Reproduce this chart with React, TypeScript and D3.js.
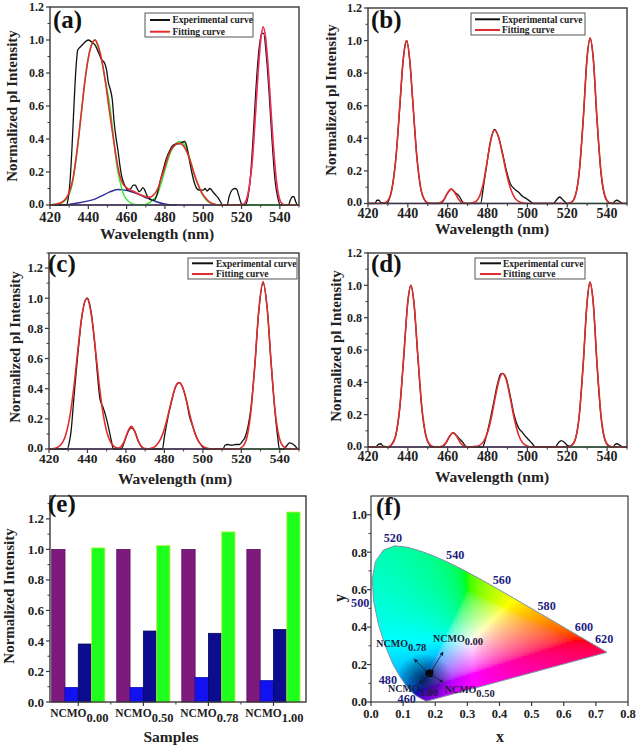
import React, { useMemo } from "react";
import * as d3 from "d3";

type P = [number, number];

// ---------- axis ticks / labels ----------
const wavelengthTicks = [420, 440, 460, 480, 500, 520, 540];
const wavelengthMinor = [430, 450, 470, 490, 510, 530, 550];
const legendLabels = ["Experimental curve", "Fitting curve"];

// ---------- panel (a) ----------
const expA: P[] = [[420,0],[428.5,0],[429.5,0.04],[430.5,0.15],[431.5,0.35],[432.5,0.6],[433.5,0.82],[434.5,0.94],[436,0.96],[438,0.985],[440,1.0],[441.5,0.99],[443.5,0.97],[445.5,0.92],[447,0.88],[448.5,0.86],[449.5,0.82],[450.5,0.74],[451.5,0.7],[452.5,0.64],[453.5,0.5],[454.7,0.39],[455.5,0.33],[456.5,0.24],[457.5,0.17],[459,0.12],[460.7,0.09],[462.2,0.1],[463.5,0.12],[464.5,0.12],[465.5,0.1],[466.5,0.08],[467.5,0.09],[468.5,0.105],[469.5,0.09],[470.5,0.06],[471.5,0.045],[473,0.03],[474.6,0.03],[476,0.07],[477.2,0.13],[479,0.21],[480.7,0.28],[482.5,0.33],[484.1,0.36],[486,0.37],[487.6,0.37],[489,0.38],[490.2,0.385],[491.3,0.36],[492.5,0.29],[494,0.2],[495.5,0.13],[497,0.095],[498.5,0.09],[500,0.09],[501,0.1],[502,0.085],[503.5,0.1],[505,0.08],[506.5,0.06],[508,0.04],[509.2,0.015],[510,0],[512.5,0],[513.5,0.05],[515,0.09],[516.5,0.1],[517.5,0.095],[518.5,0.06],[519.5,0.02],[520.5,0],[522,0],[523,0.03],[524.5,0.15],[526,0.4],[527.5,0.7],[529,0.93],[530.5,1.04],[531.5,1.04],[533,0.9],[534.5,0.66],[536,0.38],[537.5,0.15],[539,0.04],[540.3,0],[544.5,0],[545.5,0.03],[546.5,0.05],[547.3,0.05],[548.3,0.02],[549.3,0],[550,0]];
const fitA: P[] = [[420,0],[423,0.004],[426,0.015],[428,0.035],[430,0.075],[432,0.16],[434,0.32],[436,0.52],[438,0.73],[440,0.89],[442,0.98],[443.5,1.0],[445,0.97],[447,0.88],[449,0.74],[451,0.57],[453,0.41],[455,0.26],[456.5,0.175],[458,0.13],[460.5,0.1],[464,0.08],[467.5,0.06],[470,0.05],[472,0.047],[474,0.06],[476.3,0.1],[478,0.16],[480,0.23],[481.5,0.29],[483.5,0.34],[485.5,0.365],[487.6,0.375],[489.5,0.36],[491.5,0.32],[493.7,0.25],[495.5,0.18],[497.1,0.13],[499,0.08],[501,0.045],[503,0.02],[505,0.008],[507,0.002],[509,0],[519,0],[521,0.005],[522.5,0.03],[524,0.11],[525.5,0.25],[527,0.5],[528.5,0.78],[530,1.0],[531.3,1.08],[532.5,1.02],[534,0.82],[535.5,0.55],[537,0.3],[538.5,0.12],[540,0.03],[541.5,0.005],[543,0],[550,0]];
const greenA: P[] = [[420,0],[426,0.012],[430,0.065],[432,0.15],[434,0.31],[436,0.52],[438,0.73],[440,0.89],[442,0.98],[443.5,1.0],[445,0.96],[447,0.87],[449,0.75],[451,0.62],[452.5,0.48],[453.8,0.34],[455,0.23],[456.4,0.15],[457.7,0.09],[459,0.05],[460.7,0.025],[462.5,0.01],[465,0.002],[468,0],[470,0.004],[472,0.014],[474,0.035],[476.3,0.07],[478,0.13],[480,0.21],[482,0.29],[484,0.345],[486,0.375],[488,0.385],[490,0.37],[492,0.32],[494,0.24],[496,0.16],[498,0.1],[500,0.055],[502,0.025],[504,0.01],[506,0.003],[508,0],[550,0]];
const blueA: P[] = [[420,0],[430,0.004],[436,0.015],[440,0.025],[443.4,0.036],[447,0.055],[451,0.078],[455.5,0.094],[459,0.09],[462,0.082],[465.9,0.066],[469,0.05],[472.9,0.033],[476,0.018],[479.8,0.006],[483,0.001],[486,0]];
const magentaA: P[] = [[519,0],[521,0.005],[522.5,0.03],[524,0.11],[525.5,0.25],[527,0.5],[528.5,0.77],[530,0.99],[531.3,1.07],[532.5,1.01],[534,0.81],[535.5,0.54],[537,0.29],[538.5,0.11],[540,0.03],[541.5,0.005],[543,0]];

// ---------- panel (b) ----------
const expB: P[] = [[420,0],[423.5,0],[424.5,0.02],[425.5,0.02],[426.5,0.005],[429.5,0],[430.5,0.02],[432,0.09],[434,0.28],[436,0.6],[437.5,0.86],[439,0.99],[439.5,1.0],[441,0.87],[442.5,0.62],[444.5,0.29],[446.5,0.09],[448.5,0.02],[450,0],[456,0],[458,0.02],[460,0.065],[461.8,0.088],[463.5,0.07],[465,0.055],[466,0.04],[467.5,0.01],[469,0],[476.5,0],[478,0.11],[479.5,0.23],[481,0.35],[482.5,0.43],[483.5,0.455],[485.5,0.41],[487.5,0.31],[489.5,0.2],[491.5,0.12],[493.5,0.09],[495.5,0.07],[497.5,0.045],[499.5,0.03],[501.5,0.012],[503,0],[513,0],[514.5,0.02],[516.2,0.04],[518,0.02],[520,0],[522,0.007],[524,0.045],[526,0.19],[528,0.51],[530,0.9],[531.5,1.015],[533,0.9],[535,0.5],[537,0.18],[539,0.04],[541,0.005],[543,0],[544,0.015],[545,0.02],[546.5,0.01],[548,0],[550,0]];
const fitB: P[] = [[420,0],[426,0],[428,0.003],[430,0.019],[432,0.087],[434,0.276],[436,0.607],[437.5,0.862],[439.3,1.0],[441,0.876],[442.5,0.625],[444.5,0.289],[446.5,0.093],[448.5,0.021],[450.5,0.003],[453,0],[456,0.004],[458,0.023],[460,0.066],[461.8,0.09],[463.5,0.068],[465.5,0.025],[467.5,0.004],[470,0],[472,0.003],[474,0.011],[476,0.045],[478,0.131],[480,0.273],[482,0.41],[483.5,0.45],[485.5,0.408],[487.5,0.303],[489.5,0.185],[491.5,0.093],[493.5,0.038],[495.5,0.013],[498,0.0025],[500,0],[520,0],[522,0.007],[524,0.045],[526,0.19],[528,0.51],[530,0.9],[531.5,1.015],[533,0.9],[535,0.51],[537,0.19],[539,0.045],[541,0.007],[543,0],[550,0]];

// ---------- panel (c) ----------
const expC: P[] = [[420,0],[429.5,0],[430.5,0.04],[431.5,0.12],[433,0.35],[435,0.63],[437,0.87],[439,0.99],[440,1.0],[442,0.9],[444,0.67],[445.5,0.45],[446.5,0.33],[448,0.28],[449.5,0.22],[451,0.14],[452.5,0.05],[453.5,0],[457.5,0],[459,0.04],[461,0.11],[462.8,0.14],[464.5,0.12],[466.5,0.05],[468.5,0.01],[470,0],[479,0],[480,0.08],[482,0.22],[484,0.33],[486,0.42],[487.6,0.44],[489.5,0.41],[491.5,0.32],[493,0.22],[494.2,0.17],[495,0.14],[497,0.07],[499.5,0.02],[501,0],[510.5,0],[511.5,0.025],[513,0.03],[515,0.025],[517,0.03],[519,0.03],[520.5,0.05],[522,0.08],[523.5,0.15],[525,0.27],[527,0.55],[529,0.9],[531.3,1.1],[533.5,0.93],[535.5,0.57],[537.5,0.25],[539,0.07],[539.8,0],[542,0],[543.5,0.02],[545,0.04],[546.5,0.035],[548,0.02],[549.5,0],[550,0]];
const fitC: P[] = [[420,0],[422,0.002],[424,0.008],[427,0.042],[429,0.106],[431,0.228],[433,0.418],[435,0.655],[437,0.873],[439.6,1.0],[442,0.891],[444,0.679],[446,0.441],[448,0.244],[450,0.115],[452,0.046],[454,0.016],[456,0.006],[457,0.011],[459,0.047],[461,0.116],[462.8,0.15],[464.5,0.119],[466.5,0.05],[468.5,0.011],[470,0.003],[472,0.002],[474,0.008],[476,0.027],[478,0.065],[480,0.132],[482,0.229],[484,0.336],[486,0.417],[487.6,0.44],[489.5,0.408],[491.5,0.32],[493.5,0.213],[495.5,0.12],[497.5,0.057],[499.5,0.023],[502,0.006],[505,0],[518,0],[521,0.02],[523,0.083],[525,0.25],[527,0.55],[529,0.91],[531.3,1.11],[533.5,0.925],[535.5,0.572],[537.5,0.26],[539.5,0.088],[541.5,0.022],[544,0.002],[546,0],[550,0]];

// ---------- panel (d) ----------
const expD: P[] = [[420,0],[424,0],[425,0.015],[426.5,0.02],[427.5,0.005],[431,0],[432,0.02],[434,0.075],[436,0.25],[438,0.57],[440,0.9],[441.5,1.0],[443,0.9],[445,0.56],[447,0.24],[449,0.07],[451,0.01],[452,0],[457,0],[459,0.022],[461,0.066],[462.7,0.088],[464.5,0.07],[466,0.05],[467.5,0.03],[469,0.005],[470,0],[477.5,0],[479,0.05],[481,0.15],[483,0.27],[485,0.39],[486.5,0.45],[487.6,0.455],[489.5,0.42],[491.5,0.31],[493.5,0.19],[495.5,0.12],[497.5,0.09],[499.5,0.06],[501,0.04],[502.5,0.02],[504,0],[514,0],[515.5,0.025],[517,0.04],[518.5,0.03],[520,0.01],[521,0.005],[522.5,0.015],[524,0.045],[526,0.19],[528,0.51],[530,0.9],[531.4,1.02],[533,0.9],[535,0.5],[537,0.18],[539,0.04],[541,0.005],[543,0],[544,0.015],[545,0.02],[546.5,0.01],[548,0],[550,0]];
const fitD: P[] = [[420,0],[428,0],[430,0.002],[432,0.016],[434,0.076],[436,0.25],[438,0.57],[440,0.9],[441.5,1.0],[443,0.9],[445,0.57],[447,0.25],[449,0.076],[451,0.016],[453,0.002],[455,0],[457,0.004],[459,0.025],[461,0.068],[462.7,0.09],[464.5,0.066],[466.5,0.023],[468.5,0.004],[471,0],[474,0.004],[476,0.01],[478,0.033],[480,0.089],[482,0.187],[484,0.315],[486,0.423],[487.6,0.455],[489.5,0.411],[491.5,0.296],[493.5,0.17],[495.5,0.078],[497.5,0.028],[500,0.006],[502,0],[520,0],[522,0.007],[524,0.045],[526,0.19],[528,0.51],[530,0.9],[531.4,1.02],[533,0.9],[535,0.51],[537,0.19],[539,0.045],[541,0.007],[543,0],[550,0]];

// baseline component traces (zero level)
const violetBase: P[] = [[420,0],[520,0]];
const greenBase: P[] = [[520,0],[546,0]];

// ---------- panel (e) ----------
const sampleNames = ["0.00", "0.50", "0.78", "1.00"];
const violetBars = [1.0, 1.0, 1.0, 1.0];
const blueBars = [0.095, 0.095, 0.16, 0.14];
const navyBars = [0.38, 0.465, 0.45, 0.475];
const greenBars = [1.01, 1.025, 1.115, 1.245];
const barTicks = [0, 0.2, 0.4, 0.6, 0.8, 1.0, 1.2];

// ---------- panel (f) : CIE 1931 spectral locus [nm, x, y] ----------
const locus: [number, number, number][] = [
  [380,0.1741,0.0050],[400,0.1733,0.0048],[420,0.1714,0.0051],[430,0.1689,0.0069],[440,0.1644,0.0109],
  [450,0.1566,0.0177],[460,0.1440,0.0297],[465,0.1355,0.0399],[470,0.1241,0.0578],[475,0.1096,0.0868],
  [480,0.0913,0.1327],[485,0.0687,0.2007],[490,0.0454,0.2950],[495,0.0235,0.4127],[500,0.0082,0.5384],
  [505,0.0039,0.6548],[510,0.0139,0.7502],[515,0.0389,0.8120],[520,0.0743,0.8338],[525,0.1142,0.8262],
  [530,0.1547,0.8059],[535,0.1929,0.7816],[540,0.2296,0.7543],[545,0.2658,0.7243],[550,0.3016,0.6923],
  [555,0.3373,0.6589],[560,0.3731,0.6245],[565,0.4087,0.5896],[570,0.4441,0.5547],[575,0.4788,0.5202],
  [580,0.5125,0.4866],[585,0.5448,0.4544],[590,0.5752,0.4242],[595,0.6029,0.3965],[600,0.6270,0.3725],
  [605,0.6482,0.3514],[610,0.6658,0.3340],[620,0.6915,0.3083],[630,0.7079,0.2920],[640,0.7190,0.2809],
  [650,0.7260,0.2740],[700,0.7347,0.2653]
];
const locusLabelNm = [520, 540, 560, 580, 600, 620, 500, 480, 460];
const cieX = [0.186, 0.181, 0.177, 0.184];
const cieY = [0.160, 0.150, 0.156, 0.147];
const cieXTicks = [0, 0.1, 0.2, 0.3, 0.4, 0.5, 0.6, 0.7, 0.8];
const cieYTicks = [0, 0.2, 0.4, 0.6, 0.8, 1.0];

const FONT = "'Liberation Serif', 'DejaVu Serif', 'Times New Roman', serif";
const FRAME = "#3a3a3a";
const RED = "#e22d2d";
const f1 = d3.format(".1f");

type Series = { data: P[]; color: string; width: number; opacity?: number };
type SpecCfg = {
  id: string; l: number; r: number; t: number; b: number; yMax: number;
  letter: string; letterX: number; letterY: number;
  xTickFont: number; xTickY: number; yTickFont: number;
  xTitleX: number; xTitleY: number; xTitleFont: number;
  yTitleX: number; yTitleY: number;
  legend: { x0: number; y0: number; x1: number; y1: number; lx0: number; lx1: number; r1: number; r2: number; tx: number };
  series: Series[];
};

function SpectrumPanel({ c }: { c: SpecCfg }) {
  const x = d3.scaleLinear().domain([420, 550]).range([c.l, c.r]);
  const y = d3.scaleLinear().domain([0, c.yMax]).range([c.b, c.t]);
  const line = d3.line<P>().x((d) => x(d[0])).y((d) => y(d[1])).curve(d3.curveMonotoneX);
  const yMajor = d3.range(0, c.yMax + 1e-6, 0.2).map((v) => +v.toFixed(2)).filter((v) => v <= 1.2 + 1e-6);
  const yMinor = d3.range(0.1, c.yMax + 1e-6, 0.2).map((v) => +v.toFixed(2));
  const L = c.legend;
  return (
    <g fontFamily={FONT} fontWeight="bold">
      <defs>
        <clipPath id={`clip-${c.id}`}>
          <rect x={c.l} y={c.t} width={c.r - c.l} height={c.b - c.t + 1} />
        </clipPath>
      </defs>
      <g clipPath={`url(#clip-${c.id})`}>
        {c.series.map((s, i) => (
          <path key={i} d={line(s.data) || ""} fill="none" stroke={s.color} strokeWidth={s.width}
            opacity={s.opacity ?? 1} strokeLinejoin="round" />
        ))}
      </g>
      <rect x={c.l} y={c.t} width={c.r - c.l} height={c.b - c.t} fill="none" stroke={FRAME} strokeWidth={1.4} />
      {wavelengthTicks.map((v) => (
        <g key={v}>
          <line x1={x(v)} x2={x(v)} y1={c.b} y2={c.b + 4} stroke={FRAME} strokeWidth={1.2} />
          <text x={x(v)} y={c.xTickY} fontSize={c.xTickFont} textAnchor="middle" fill="#222">{v}</text>
        </g>
      ))}
      {wavelengthMinor.map((v) => (
        <line key={v} x1={x(v)} x2={x(v)} y1={c.b} y2={c.b + 2.5} stroke={FRAME} strokeWidth={1} />
      ))}
      {yMajor.map((v) => (
        <g key={v}>
          <line x1={c.l - 4} x2={c.l} y1={y(v)} y2={y(v)} stroke={FRAME} strokeWidth={1.2} />
          <text x={c.l - 6} y={y(v) - (v === 0 ? 1.5 : 0)} dy="0.35em" fontSize={c.yTickFont} textAnchor="end" fill="#222">{f1(v)}</text>
        </g>
      ))}
      {yMinor.map((v) => (
        <line key={v} x1={c.l - 2.5} x2={c.l} y1={y(v)} y2={y(v)} stroke={FRAME} strokeWidth={1} />
      ))}
      <text x={c.xTitleX} y={c.xTitleY} fontSize={c.xTitleFont} textAnchor="middle" fill="#222">Wavelength (nm)</text>
      <text transform={`translate(${c.yTitleX},${c.yTitleY}) rotate(-90)`} fontSize={15} textAnchor="middle" fill="#222">
        Normalized pl Intensity
      </text>
      <text x={c.letterX} y={c.letterY} fontSize={25} fill="#111">{c.letter}</text>
      <rect x={L.x0} y={L.y0} width={L.x1 - L.x0} height={L.y1 - L.y0} fill="#fff" stroke="#555" strokeWidth={1} />
      {[L.r1, L.r2].map((ry, i) => (
        <g key={i}>
          <line x1={L.lx0} x2={L.lx1} y1={ry} y2={ry} stroke={i === 0 ? "#111" : RED} strokeWidth={2} />
          <text x={L.tx} y={ry + 3.3} fontSize={9.5} fill="#222">{legendLabels[i]}</text>
        </g>
      ))}
    </g>
  );
}

function BarPanel() {
  const l = 50, r = 306, t = 496, b = 702;
  const x = d3.scaleLinear().domain([0.565, 4.5]).range([l, r]);
  const y = d3.scaleLinear().domain([0, 1.35]).range([b, t]);
  const w = 0.2045;
  const groups = [
    { vals: violetBars, fill: "#7e1a7e", stroke: "#5e0f5e" },
    { vals: blueBars, fill: "#1212f0", stroke: "#0a0ab0" },
    { vals: navyBars, fill: "#0c0c8e", stroke: "#06065e" },
    { vals: greenBars, fill: "#1eff1e", stroke: "#c4f04a" },
  ];
  const minorY = d3.range(0.1, 1.35, 0.2);
  return (
    <g fontFamily={FONT} fontWeight="bold">
      {groups.map((g, gi) =>
        g.vals.map((v, i) => {
          const cx = i + 1;
          const x0 = x(cx + (gi - 2) * w);
          const x1 = x(cx + (gi - 1) * w);
          return (
            <rect key={`${gi}-${i}`} x={x0} y={y(v)} width={x1 - x0} height={y(0) - y(v)}
              fill={g.fill} stroke={g.stroke} strokeWidth={0.8} />
          );
        })
      )}
      <rect x={l} y={t} width={r - l} height={b - t} fill="none" stroke={FRAME} strokeWidth={1.4} />
      {barTicks.map((v) => (
        <g key={v}>
          <line x1={l - 4} x2={l} y1={y(v)} y2={y(v)} stroke={FRAME} strokeWidth={1.2} />
          <text x={l - 6} y={y(v)} dy="0.35em" fontSize={13} textAnchor="end" fill="#222">{f1(v)}</text>
        </g>
      ))}
      {minorY.map((v) => (
        <line key={v} x1={l - 2.5} x2={l} y1={y(v)} y2={y(v)} stroke={FRAME} strokeWidth={1} />
      ))}
      {sampleNames.map((s, i) => (
        <g key={s}>
          <line x1={x(i + 1)} x2={x(i + 1)} y1={b} y2={b + 4} stroke={FRAME} strokeWidth={1.2} />
          {i < 3 && <line x1={x(i + 1.5)} x2={x(i + 1.5)} y1={b} y2={b + 2.5} stroke={FRAME} strokeWidth={1} />}
          <text x={x(i + 1) + 1} y={717} textAnchor="middle" fill="#222">
            <tspan fontSize={11.5}>NCMO</tspan>
            <tspan fontSize={12.5} dy={5}>{s}</tspan>
          </text>
        </g>
      ))}
      <text x={171} y={742} fontSize={15.5} textAnchor="middle" fill="#222">Samples</text>
      <text transform="translate(14,596) rotate(-90)" fontSize={15} textAnchor="middle" fill="#222">Normalized Intensity</text>
      <text x={48} y={512} fontSize={25} fill="#111">(e)</text>
    </g>
  );
}

function srgbGamma(v: number) {
  return v <= 0.0031308 ? 12.92 * v : 1.055 * Math.pow(v, 1 / 2.4) - 0.055;
}
function xyColor(x: number, y: number) {
  const Y = 1, X = x / y, Z = (1 - x - y) / y;
  let r = 3.2406 * X - 1.5372 * Y - 0.4986 * Z;
  let g = -0.9689 * X + 1.8758 * Y + 0.0415 * Z;
  let b = 0.0557 * X - 0.204 * Y + 1.057 * Z;
  const mn = Math.min(r, g, b);
  if (mn < 0) { r -= mn; g -= mn; b -= mn; }
  const mx = Math.max(r, g, b) || 1;
  const c = [r / mx, g / mx, b / mx].map((v) => Math.round(255 * Math.min(1, Math.max(0, srgbGamma(v)))));
  return `rgb(${c[0]},${c[1]},${c[2]})`;
}

function CiePanel() {
  const l = 371, r = 628, t = 496, b = 702;
  const x = d3.scaleLinear().domain([0, 0.8]).range([l, r]);
  const y = d3.scaleLinear().domain([0, 1.1]).range([b, t]);
  const poly: [number, number][] = locus.map((d) => [x(d[1]), y(d[2])]);
  const locusPath = "M" + poly.map((p) => p.join(",")).join("L") + "Z";
  const step = 2;
  const cells = useMemo(() => {
    const out: { px: number; py: number; c: string }[] = [];
    for (let px = l; px < r; px += step) {
      for (let py = t; py < b; py += step) {
        const corners: [number, number][] = [[px, py], [px + step, py], [px, py + step], [px + step, py + step]];
        if (!corners.some((p) => d3.polygonContains(poly, p))) continue;
        const xv = x.invert(px + step / 2), yv = Math.max(0.003, y.invert(py + step / 2));
        out.push({ px, py, c: xyColor(xv, yv) });
      }
    }
    return out;
  }, []);
  const labelOffsets: Record<number, [number, number]> = {
    520: [-2, -4], 540: [10.5, -2], 560: [11, -1], 580: [11, -1], 600: [11.5, -1.5], 620: [11, -1],
    500: [-13.4, 5.5], 480: [-12.5, 6.5], 460: [-10.5, 7],
  };
  const sampleLabels = [
    { i: 0, lx: 433, ly: 641.7, ax: 0.224, ay: 0.266 },
    { i: 1, lx: 444.7, ly: 693, ax: 0.224, ay: 0.107 },
    { i: 2, lx: 376.3, ly: 647, ax: 0.135, ay: 0.228 },
    { i: 3, lx: 388, ly: 692, ax: 0.15, ay: 0.098 },
  ];
  return (
    <g fontFamily={FONT} fontWeight="bold">
      <defs>
        <clipPath id="clip-cie"><path d={locusPath} /></clipPath>
        <radialGradient id="shade" cx="50%" cy="50%" r="50%">
          <stop offset="0%" stopColor="#001030" stopOpacity={0.75} />
          <stop offset="100%" stopColor="#001030" stopOpacity={0} />
        </radialGradient>
        <marker id="arr" viewBox="0 0 6 6" refX="5" refY="3" markerWidth="5" markerHeight="5" orient="auto">
          <path d="M0,0L6,3L0,6Z" fill="#1a1a3a" />
        </marker>
      </defs>
      <g clipPath="url(#clip-cie)" shapeRendering="crispEdges">
        {cells.map((c, i) => (
          <rect key={i} x={c.px} y={c.py} width={step + 0.4} height={step + 0.4} fill={c.c} />
        ))}
        <ellipse cx={x(0.165)} cy={y(0.12)} rx={28} ry={26} fill="url(#shade)" />
      </g>
      <path d={locusPath} fill="none" stroke="#8090a8" strokeWidth={1} />
      {cieX.map((cx, i) => (
        <rect key={i} x={x(cx) - 2.5} y={y(cieY[i]) - 2.5} width={5} height={5} fill="#050505" />
      ))}
      {sampleLabels.map((s) => (
        <g key={s.i}>
          <line x1={x(cieX[s.i])} y1={y(cieY[s.i])} x2={x(s.ax)} y2={y(s.ay)} stroke="#1a1a3a" strokeWidth={0.8} markerEnd="url(#arr)" />
          <text x={s.lx} y={s.ly} fill="#1c1c3c">
            <tspan fontSize={10}>NCMO</tspan>
            <tspan fontSize={10.5} dy={3.5}>{sampleNames[s.i]}</tspan>
          </text>
        </g>
      ))}
      {locusLabelNm.map((nm) => {
        const p = locus.find((d) => d[0] === nm)!;
        const o = labelOffsets[nm];
        return (
          <text key={nm} x={x(p[1]) + o[0]} y={y(p[2]) + o[1]} fontSize={12.2} textAnchor="middle" fill="#1c1c80">{nm}</text>
        );
      })}
      <rect x={l} y={t} width={r - l} height={b - t} fill="none" stroke={FRAME} strokeWidth={1.2} />
      {cieXTicks.map((v) => (
        <g key={v}>
          <line x1={x(v)} x2={x(v)} y1={b} y2={b + 4} stroke={FRAME} strokeWidth={1.2} />
          <text x={x(v)} y={718} fontSize={12.5} textAnchor="middle" fill="#222">{f1(v)}</text>
        </g>
      ))}
      {cieYTicks.map((v) => (
        <g key={v}>
          <line x1={l - 4} x2={l} y1={y(v)} y2={y(v)} stroke={FRAME} strokeWidth={1.2} />
          <text x={l - 4} y={y(v)} dy="0.35em" fontSize={12.5} textAnchor="end" fill="#222">{f1(v)}</text>
        </g>
      ))}
      {d3.range(0.1, 1.1, 0.2).map((v) => (
        <line key={v} x1={l - 2.5} x2={l} y1={y(v)} y2={y(v)} stroke={FRAME} strokeWidth={1} />
      ))}
      <text x={500} y={742} fontSize={16} textAnchor="middle" fill="#222">x</text>
      <text transform="translate(345,598) rotate(-90)" fontSize={16} textAnchor="middle" fill="#222">y</text>
      <text x={376} y={515} fontSize={25} fill="#111">(f)</text>
    </g>
  );
}

const baseSeries: Series[] = [
  { data: violetBase, color: "#7a3fbf", width: 1.3 },
  { data: greenBase, color: "#2a9a4a", width: 1.3 },
];

const panels: SpecCfg[] = [
  {
    id: "a", l: 50, r: 299, t: 7, b: 205, yMax: 1.2, letter: "(a)", letterX: 53, letterY: 28,
    xTickFont: 14.5, xTickY: 222, yTickFont: 12, xTitleX: 157, xTitleY: 239, xTitleFont: 15.5,
    yTitleX: 17, yTitleY: 106,
    legend: { x0: 145, y0: 13, x1: 253, y1: 37, lx0: 150, lx1: 170, r1: 20, r2: 31.7, tx: 172.5 },
    series: [
      ...baseSeries,
      { data: blueA, color: "#2e2e9e", width: 1.4 },
      { data: greenA, color: "#2ee82e", width: 1.4 },
      { data: expA, color: "#111", width: 1.3 },
      { data: fitA, color: RED, width: 1.6 },
      { data: magentaA, color: "#ff2aa0", width: 1.2, opacity: 0.5 },
    ],
  },
  {
    id: "b", l: 368, r: 627, t: 8, b: 203.5, yMax: 1.2, letter: "(b)", letterX: 371, letterY: 28,
    xTickFont: 14, xTickY: 218, yTickFont: 12, xTitleX: 492, xTitleY: 234, xTitleFont: 15.5,
    yTitleX: 336, yTitleY: 100,
    legend: { x0: 471, y0: 13, x1: 585, y1: 35, lx0: 475, lx1: 500, r1: 19.3, r2: 30, tx: 502 },
    series: [...baseSeries, { data: expB, color: "#111", width: 1.3 }, { data: fitB, color: RED, width: 1.6 }],
  },
  {
    id: "c", l: 49, r: 299, t: 253, b: 449, yMax: 1.3, letter: "(c)", letterX: 48, letterY: 272,
    xTickFont: 13.5, xTickY: 463, yTickFont: 12.5, xTitleX: 175, xTitleY: 484, xTitleFont: 15.5,
    yTitleX: 20, yTitleY: 347,
    legend: { x0: 188, y0: 258, x1: 297, y1: 279, lx0: 192, lx1: 213, r1: 263.3, r2: 274, tx: 216 },
    series: [...baseSeries, { data: expC, color: "#111", width: 1.3 }, { data: fitC, color: RED, width: 1.6 }],
  },
  {
    id: "d", l: 368, r: 627, t: 253, b: 447, yMax: 1.2, letter: "(d)", letterX: 371, letterY: 272,
    xTickFont: 14, xTickY: 461, yTickFont: 12, xTitleX: 492, xTitleY: 482, xTitleFont: 15.5,
    yTitleX: 341, yTitleY: 346,
    legend: { x0: 475, y0: 258, x1: 585, y1: 279, lx0: 480, lx1: 501, r1: 263.3, r2: 274, tx: 503 },
    series: [...baseSeries, { data: expD, color: "#111", width: 1.3 }, { data: fitD, color: RED, width: 1.6 }],
  },
];

export default function App() {
  return (
    <svg width={638} height={749} viewBox="0 0 638 749"
      style={{ position: "absolute", left: 0, top: 0, background: "#fff" }}>
      <rect width={638} height={749} fill="#fff" />
      {panels.map((p) => <SpectrumPanel key={p.id} c={p} />)}
      <BarPanel />
      <CiePanel />
    </svg>
  );
}
